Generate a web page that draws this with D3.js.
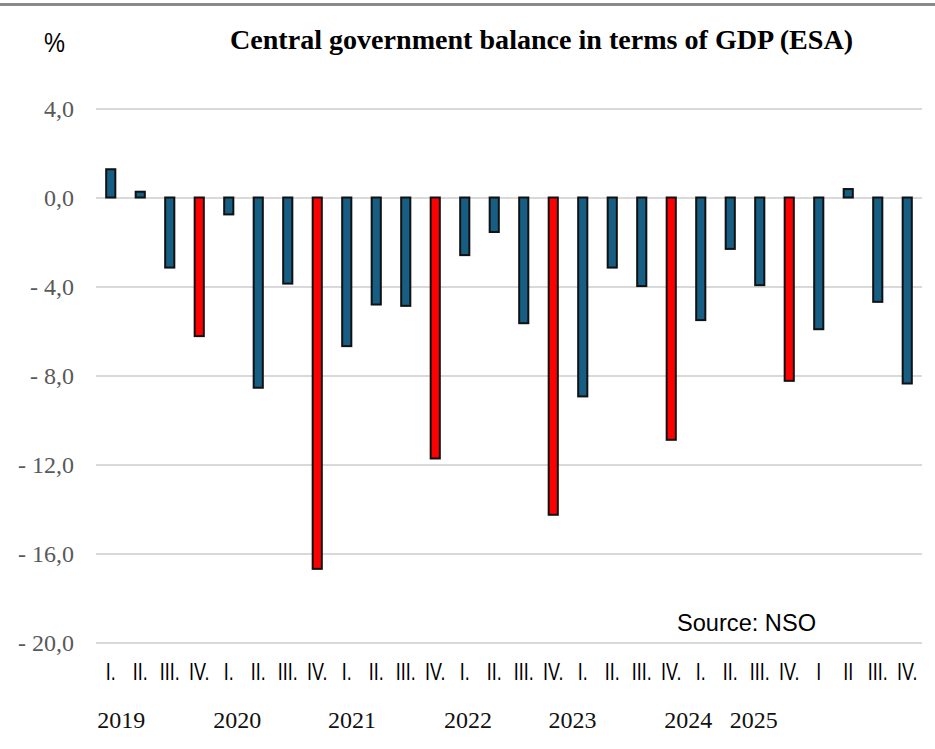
<!DOCTYPE html>
<html>
<head>
<meta charset="utf-8">
<script src="https://cdn.jsdelivr.net/npm/d3@7"></script>
<style>
  html, body { margin: 0; padding: 0; background: #fff; }
  svg { display: block; }
</style>
</head>
<body>
<svg id="chart" width="935" height="749"></svg>
<script>
// Central government balance, % of GDP (ESA), quarterly 2019–2025
const years = ["2019", "2020", "2021", "2022", "2023", "2024", "2025"];
const quarterLabels = [
  "I.", "II.", "III.", "IV.",
  "I.", "II.", "III.", "IV.",
  "I.", "II.", "III.", "IV.",
  "I.", "II.", "III.", "IV.",
  "I.", "II.", "III.", "IV.",
  "I.", "II.", "III.", "IV.",
  "I", "II", "III.", "IV."
];
const balance = [
  1.27, 0.26, -3.15, -6.23,
  -0.76, -8.55, -3.87, -16.69,
  -6.68, -4.81, -4.87, -11.73,
  -2.59, -1.55, -5.65, -14.26,
  -8.94, -3.15, -3.98, -10.89,
  -5.51, -2.31, -3.94, -8.24,
  -5.92, 0.38, -4.69, -8.36
];
// full-year (cumulative) figures are shown in red
const fullYear = [
  false, false, false, true,
  false, false, false, true,
  false, false, false, true,
  false, false, false, true,
  false, false, false, true,
  false, false, false, true,
  false, false, false, false
];
const yTicks = [4, 0, -4, -8, -12, -16, -20];

const categories = balance.map((_, i) => years[Math.floor(i / 4)] + " Q" + (i % 4 + 1));
const data = balance.map((v, i) => ({ key: categories[i], value: v, label: quarterLabels[i], full: fullYear[i] }));

const svg = d3.select("#chart");
const plotLeft = 96, plotRight = 922, plotTop = 108.5, plotBottom = 642.5;

const x = d3.scaleBand().domain(categories).range([plotLeft, plotRight]).paddingInner(0.69).paddingOuter(0.345);
const y = d3.scaleLinear().domain([-20, 4]).range([plotBottom, plotTop]);

// frame line along the top edge
svg.append("rect").attr("x", 0).attr("y", 3).attr("width", 935).attr("height", 3).attr("fill", "#8a8a8a");

// gridlines and value labels
const yAxis = d3.axisLeft(y).tickValues(yTicks).tickSize(-(plotRight - plotLeft)).tickPadding(22)
  .tickFormat(d => (d < 0 ? "- " : "") + d3.format(".1f")(Math.abs(d)).replace(".", ","));
const gy = svg.append("g").attr("transform", `translate(${plotLeft},0)`).call(yAxis);
gy.select(".domain").remove();
gy.selectAll(".tick line").attr("stroke", "#d9d9d9").attr("stroke-width", 2);
gy.selectAll(".tick text")
  .attr("font-family", "'Liberation Serif', 'Times New Roman', serif")
  .attr("font-size", 24).attr("fill", "#595959");

// bars
svg.append("g").selectAll("rect").data(data).join("rect")
  .attr("x", d => x(d.key))
  .attr("width", x.bandwidth())
  .attr("y", d => y(Math.max(0, d.value)))
  .attr("height", d => Math.abs(y(d.value) - y(0)))
  .attr("fill", d => d.full ? "#ff0000" : "#165e83")
  .attr("stroke", "#111")
  .attr("stroke-width", 2);

// quarter labels (narrow sans)
const xAxis = d3.axisBottom(x).tickSize(0).tickPadding(0).tickFormat((d, i) => quarterLabels[i]);
const gx = svg.append("g").attr("transform", `translate(0,${plotBottom})`).call(xAxis);
gx.select(".domain").remove();
gx.selectAll(".tick text")
  .attr("x", 0).attr("y", 38).attr("dy", 0)
  .attr("font-family", "'Liberation Sans', Arial, sans-serif")
  .attr("font-size", 23).attr("fill", "#000")
  .attr("transform", "scale(0.78,1)");

// year labels under the quarters
const yearSlot = [0.36, 4.29, 8.18, 12.11, 15.65, 19.58, 21.8];
svg.append("g").selectAll("text").data(years).join("text")
  .attr("x", (d, i) => x(categories[0]) + x.bandwidth() / 2 + yearSlot[i] * x.step())
  .attr("y", 728)
  .attr("text-anchor", "middle")
  .attr("font-family", "'Liberation Serif', 'Times New Roman', serif")
  .attr("font-size", 24).attr("fill", "#111")
  .text(d => d);

// title and unit
svg.append("text")
  .attr("x", 230).attr("y", 49)
  .attr("textLength", 623).attr("lengthAdjust", "spacingAndGlyphs")
  .attr("font-family", "'Liberation Serif', 'Times New Roman', serif")
  .attr("font-weight", "bold").attr("font-size", 28).attr("fill", "#000")
  .text("Central government balance in terms of GDP (ESA)");

svg.append("text")
  .attr("x", 44).attr("y", 52)
  .attr("textLength", 21).attr("lengthAdjust", "spacingAndGlyphs")
  .attr("font-family", "'Liberation Sans', Arial, sans-serif")
  .attr("font-size", 27).attr("fill", "#000")
  .text("%");

svg.append("text")
  .attr("x", 677).attr("y", 631)
  .attr("textLength", 139).attr("lengthAdjust", "spacingAndGlyphs")
  .attr("font-family", "'Liberation Sans', Arial, sans-serif")
  .attr("font-size", 23.5).attr("fill", "#000")
  .text("Source: NSO");
</script>
</body>
</html>
